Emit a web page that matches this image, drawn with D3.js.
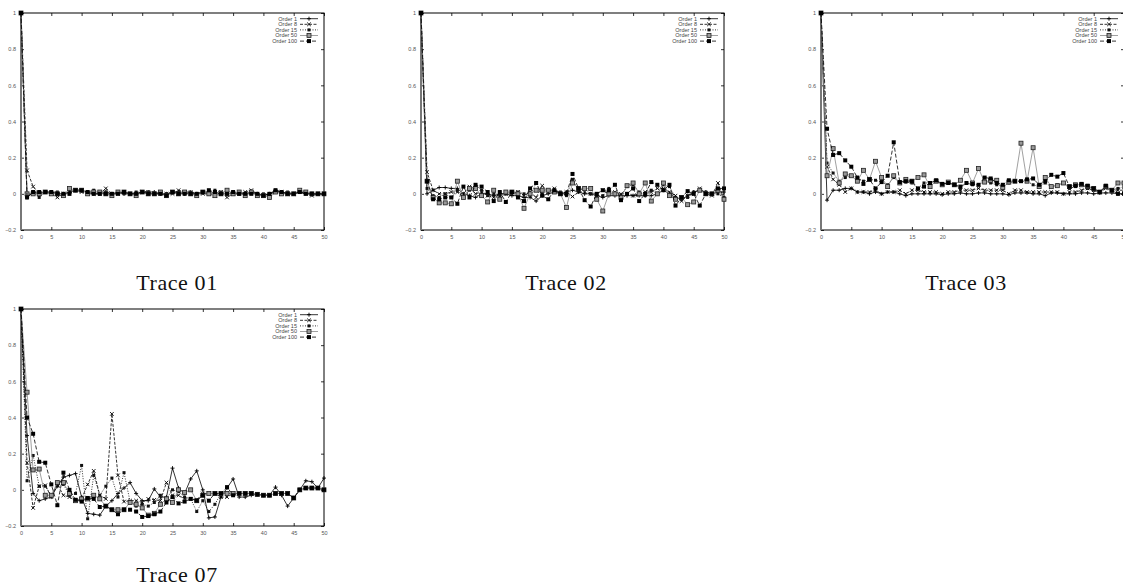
<!DOCTYPE html>
<html>
<head>
<meta charset="utf-8">
<script src="https://cdn.jsdelivr.net/npm/d3@7"></script>
<style>
  body { margin: 0; background: #fff; }
  .tick text { font-family: 'Liberation Sans', Arial, sans-serif; font-size: 5.5px; fill: #555; }
  .legend text { font-family: 'Liberation Sans', Arial, sans-serif; font-size: 5.5px; fill: #444; }
  .caption { font-family: 'Liberation Serif', 'DejaVu Serif', serif; font-size: 22px; fill: #111; letter-spacing: 0.6px; }
</style>
</head>
<body>
<div id="chart"></div>
<script>
// lag axis and tick labels
const lags = d3.range(0, 51)
const xTickValues = [0, 5, 10, 15, 20, 25, 30, 35, 40, 45, 50]
const yTickValues = [-0.2, 0, 0.2, 0.4, 0.6, 0.8, 1]
const seriesNames = ['Order 1', 'Order 8', 'Order 15', 'Order 50', 'Order 100']

// Trace 01
const t01o1 = [1, -0.02, 0.01, 0.0, 0.01, 0.01, 0.0, 0.0, 0.01, 0.02, 0.02, 0.01, 0.0, 0.0, 0.01, 0.0, 0.01, 0.0, 0.0, 0.0, 0.01, 0.01, 0.01, 0.0, 0.0, 0.01, 0.01, 0.0, 0.01, 0.0, 0.01, 0.0, 0.01, 0.0, 0.0, 0.0, 0.0, 0.0, 0.01, 0.0, -0.01, 0.0, 0.01, 0.01, 0.0, 0.0, 0.01, 0.0, 0.0, 0.0, 0.0]
const t01o8 = [1, 0.13, 0.04, 0.0, 0.01, 0.0, -0.02, 0.0, 0.01, 0.02, 0.01, 0.0, 0.0, 0.0, 0.03, 0.0, 0.0, 0.01, 0.0, 0.0, 0.01, 0.01, 0.0, 0.0, 0.0, 0.0, 0.02, 0.01, 0.01, 0.0, 0.0, 0.0, -0.01, 0.01, -0.02, 0.0, 0.0, 0.01, 0.02, 0.0, -0.01, 0.0, 0.01, 0.01, 0.0, 0.0, 0.01, 0.0, -0.01, 0.0, 0.0]
const t01o15 = [1, -0.01, 0.01, -0.02, 0.01, 0.01, 0.01, 0.0, 0.0, 0.02, 0.02, 0.01, 0.02, 0.0, 0.01, 0.0, 0.01, 0.0, 0.0, 0.01, 0.01, 0.01, 0.0, 0.01, 0.0, 0.01, 0.01, 0.01, 0.0, 0.0, 0.01, 0.01, 0.02, 0.01, 0.0, 0.01, 0.0, 0.0, 0.01, 0.0, 0.0, 0.0, 0.02, 0.01, 0.01, 0.0, 0.01, 0.01, 0.0, 0.0, 0.0]
const t01o50 = [1, 0.0, 0.0, 0.0, 0.01, 0.0, 0.0, -0.01, 0.03, 0.02, 0.02, 0.0, 0.01, 0.01, 0.0, -0.01, 0.01, 0.01, 0.0, -0.01, 0.01, 0.0, 0.0, 0.01, -0.01, 0.01, 0.0, 0.01, 0.0, -0.01, 0.01, 0.0, -0.01, 0.0, 0.02, 0.0, 0.01, -0.01, 0.01, -0.01, -0.01, -0.02, 0.01, 0.0, 0.0, 0.0, 0.02, 0.01, 0.0, 0.0, 0.0]
const t01o100 = [1, -0.02, 0.01, 0.01, 0.01, 0.01, 0.0, 0.0, 0.0, 0.02, 0.02, 0.01, 0.0, 0.0, 0.0, 0.0, 0.0, 0.01, 0.0, 0.0, 0.01, 0.0, 0.0, 0.0, -0.01, 0.01, 0.0, 0.0, 0.0, 0.0, 0.01, 0.02, 0.01, 0.0, 0.0, 0.01, 0.0, 0.0, 0.0, 0.0, -0.01, 0.0, 0.02, 0.01, 0.0, 0.0, 0.01, 0.0, 0.0, 0.0, 0.0]

// Trace 02
const t02o1 = [1, 0.0, 0.02, 0.035, 0.035, 0.03, 0.03, 0.0, -0.01, -0.02, 0.0, 0.0, -0.01, 0.0, 0.0, -0.01, -0.01, -0.02, -0.02, -0.04, -0.01, 0.0, 0.01, 0.0, 0.01, 0.02, 0.01, 0.0, 0.0, -0.01, -0.02, -0.01, -0.01, -0.01, -0.01, -0.01, -0.01, -0.01, -0.01, 0.0, 0.02, 0.0, -0.02, -0.03, -0.01, 0.01, 0.02, 0.01, 0.0, 0.01, 0.01]
const t02o8 = [1, 0.12, 0.02, 0.0, 0.0, 0.01, 0.01, 0.0, 0.04, 0.0, 0.01, -0.01, -0.02, 0.0, 0.0, 0.0, 0.01, -0.01, 0.01, -0.02, 0.045, 0.01, 0.03, 0.0, 0.01, -0.015, 0.01, 0.01, 0.0, 0.0, 0.02, 0.0, 0.01, 0.0, 0.0, -0.01, 0.0, 0.01, 0.01, 0.03, 0.03, 0.01, -0.01, -0.04, -0.01, 0.0, 0.03, 0.0, -0.01, 0.06, -0.03]
const t02o15 = [1, 0.03, -0.01, -0.02, 0.0, -0.02, 0.02, -0.02, 0.02, 0.05, 0.02, -0.01, 0.0, -0.01, 0.0, 0.01, 0.01, 0.0, -0.01, 0.06, 0.0, 0.02, 0.02, 0.01, -0.01, 0.08, 0.02, 0.03, 0.0, -0.01, -0.01, 0.03, 0.0, -0.01, 0.04, 0.05, 0.01, -0.01, 0.02, 0.0, 0.05, 0.04, -0.02, -0.03, -0.02, 0.01, 0.02, 0.01, 0.0, 0.0, -0.02]
const t02o50 = [1, 0.07, -0.02, -0.05, -0.05, -0.055, 0.07, -0.02, 0.03, 0.03, -0.01, -0.045, 0.02, -0.03, 0.01, 0.01, 0.0, -0.08, 0.0, 0.02, 0.02, 0.02, 0.01, 0.0, -0.075, 0.06, 0.03, 0.03, 0.03, -0.03, -0.095, 0.0, 0.0, -0.02, 0.045, 0.06, 0.0, 0.06, -0.04, 0.0, 0.06, -0.01, -0.03, -0.02, -0.06, -0.045, 0.02, 0.0, 0.0, 0.02, -0.03]
const t02o100 = [1, 0.07, -0.03, -0.03, -0.02, -0.02, -0.055, 0.04, -0.02, 0.05, 0.04, 0.01, -0.04, 0.01, -0.045, 0.01, -0.02, -0.04, 0.03, 0.06, -0.01, -0.03, 0.02, 0.0, 0.0, 0.11, 0.03, -0.035, -0.07, 0.0, 0.02, 0.02, 0.05, -0.035, 0.0, 0.03, -0.04, 0.0, 0.065, 0.05, 0.02, 0.05, -0.065, -0.02, 0.015, 0.0, -0.065, 0.0, 0.0, 0.03, 0.03]

// Trace 03
const t03o1 = [1, -0.035, 0.02, 0.02, 0.03, 0.03, 0.01, 0.01, 0.0, 0.01, 0.0, 0.01, 0.01, 0.0, -0.01, 0.0, 0.0, 0.0, 0.0, 0.0, -0.005, 0.0, 0.0, 0.005, 0.0, 0.0, 0.005, 0.005, 0.0, 0.0, 0.0, -0.005, 0.005, 0.005, 0.005, 0.0, 0.0, -0.01, 0.005, 0.005, 0.0, 0.0, 0.0, 0.005, 0.005, 0.0, 0.005, 0.005, 0.005, 0.0, 0.0]
const t03o8 = [1, 0.15, 0.08, 0.05, 0.01, 0.03, 0.01, 0.01, 0.01, 0.02, 0.0, 0.01, 0.01, 0.02, 0.0, 0.02, 0.02, 0.01, 0.01, 0.01, 0.0, 0.01, 0.01, 0.02, 0.02, 0.02, 0.03, 0.02, 0.02, 0.02, 0.02, 0.0, 0.02, 0.02, 0.01, 0.01, 0.01, 0.01, 0.01, 0.01, 0.0, 0.01, 0.01, 0.02, 0.03, 0.02, 0.01, 0.03, 0.02, 0.02, 0.02]
const t03o15 = [1, 0.17, 0.115, 0.07, 0.09, 0.1, 0.09, 0.07, 0.08, 0.075, 0.065, 0.05, 0.09, 0.06, 0.065, 0.06, 0.03, 0.06, 0.06, 0.07, 0.05, 0.06, 0.05, 0.03, 0.06, 0.05, 0.05, 0.07, 0.06, 0.05, 0.04, 0.06, 0.07, 0.07, 0.07, 0.05, 0.04, 0.06, 0.04, 0.05, 0.06, 0.03, 0.04, 0.05, 0.03, 0.02, 0.01, 0.04, 0.02, 0.03, 0.04]
const t03o50 = [1, 0.1, 0.25, 0.06, 0.11, 0.1, 0.07, 0.13, 0.08, 0.18, 0.09, 0.04, 0.1, 0.06, 0.08, 0.07, 0.09, 0.105, 0.04, 0.07, 0.05, 0.065, 0.05, 0.075, 0.13, 0.06, 0.14, 0.065, 0.075, 0.075, 0.035, 0.065, 0.07, 0.28, 0.07, 0.255, 0.04, 0.09, 0.04, 0.045, 0.06, 0.04, 0.05, 0.05, 0.04, 0.03, 0.01, 0.04, 0.02, 0.06, 0.06]
const t03o100 = [1, 0.36, 0.215, 0.225, 0.185, 0.15, 0.09, 0.055, 0.08, 0.03, 0.065, 0.1, 0.285, 0.065, 0.07, 0.07, 0.03, 0.04, 0.06, 0.075, 0.055, 0.06, 0.05, 0.04, 0.06, 0.055, 0.05, 0.09, 0.085, 0.06, 0.05, 0.075, 0.07, 0.07, 0.08, 0.085, 0.05, 0.07, 0.105, 0.095, 0.115, 0.04, 0.045, 0.055, 0.045, 0.03, 0.01, 0.045, 0.02, 0.0, 0.0]

// Trace 07
const t07o1 = [1, 0.3, -0.02, -0.06, -0.05, -0.04, 0.02, 0.07, 0.08, 0.09, -0.04, -0.13, -0.135, -0.14, -0.09, -0.06, -0.02, 0.01, 0.04, -0.02, -0.06, -0.06, 0.005, -0.04, -0.04, 0.12, 0.01, -0.02, 0.06, 0.105, 0.0, -0.155, -0.15, -0.04, 0.01, 0.06, -0.04, -0.04, -0.03, -0.025, -0.03, -0.03, 0.015, -0.03, -0.09, -0.045, 0.0, 0.05, 0.045, 0.01, 0.065]
const t07o8 = [1, 0.15, -0.1, 0.02, 0.025, -0.04, 0.03, -0.03, -0.04, -0.06, -0.05, 0.03, 0.105, -0.03, -0.05, 0.42, 0.08, -0.065, -0.06, -0.06, -0.07, -0.05, -0.055, -0.06, 0.04, -0.03, -0.03, -0.05, -0.05, -0.055, -0.02, -0.02, -0.02, -0.04, -0.04, -0.02, -0.02, -0.02, -0.02, -0.025, -0.03, -0.03, -0.02, -0.02, -0.02, -0.045, 0.0, 0.01, 0.01, 0.01, 0.0]
const t07o15 = [1, 0.05, 0.19, 0.02, 0.02, -0.03, 0.03, 0.03, -0.03, -0.02, 0.135, -0.16, 0.08, -0.03, 0.02, 0.065, -0.04, 0.095, -0.065, -0.09, -0.08, -0.09, -0.07, -0.03, -0.05, 0.0, -0.01, -0.04, -0.05, -0.12, -0.06, -0.12, -0.08, -0.02, -0.02, -0.02, -0.02, -0.02, -0.02, -0.025, -0.03, -0.03, -0.02, -0.02, -0.02, -0.045, 0.0, 0.01, 0.01, 0.01, 0.0]
const t07o50 = [1, 0.54, 0.11, 0.115, -0.03, -0.03, 0.04, 0.04, -0.02, -0.06, -0.05, -0.05, -0.03, -0.05, -0.09, -0.11, -0.11, -0.11, -0.07, -0.08, -0.1, -0.14, -0.13, -0.08, -0.05, -0.07, 0.0, -0.015, 0.0, -0.06, -0.03, -0.02, -0.02, -0.02, -0.02, -0.02, -0.02, -0.02, -0.02, -0.025, -0.03, -0.03, -0.02, -0.02, -0.02, -0.045, 0.0, 0.01, 0.01, 0.01, 0.0]
const t07o100 = [1, 0.4, 0.31, 0.155, 0.15, 0.03, -0.085, 0.095, 0.0, -0.055, -0.065, -0.045, -0.05, -0.095, -0.09, -0.11, -0.135, -0.11, -0.11, -0.12, -0.15, -0.145, -0.135, -0.12, -0.07, -0.04, -0.075, -0.065, -0.05, -0.06, -0.03, -0.06, -0.02, -0.02, 0.015, -0.03, -0.02, -0.02, -0.02, -0.025, -0.03, -0.03, -0.02, -0.02, -0.02, -0.045, 0.0, 0.01, 0.01, 0.01, 0.0]

const width = 1123
const height = 586
const plotW = 303
const plotH = 217

const panels = [
  { title: 'Trace 01', left: 21, top: 13, capX: 177, capY: 290, data: [t01o1, t01o8, t01o15, t01o50, t01o100] },
  { title: 'Trace 02', left: 421, top: 13, capX: 566, capY: 290, data: [t02o1, t02o8, t02o15, t02o50, t02o100] },
  { title: 'Trace 03', left: 821, top: 13, capX: 966, capY: 290, data: [t03o1, t03o8, t03o15, t03o50, t03o100] },
  { title: 'Trace 07', left: 21, top: 309, capX: 177, capY: 582, data: [t07o1, t07o8, t07o15, t07o50, t07o100] }
]

// one style per series: gnuplot-like line type + point type
const styles = [
  { stroke: '#000', dash: null, mark: 'plus' },
  { stroke: '#000', dash: '3,1.5', mark: 'cross' },
  { stroke: '#000', dash: '1,1.5', mark: 'dot' },
  { stroke: '#888', dash: null, mark: 'box' },
  { stroke: '#000', dash: '4,2', mark: 'fill' }
]

const svg = d3.select('#chart').append('svg')
  .attr('width', width)
  .attr('height', height)

const x = d3.scaleLinear().domain([0, 50]).range([0, plotW])
const y = d3.scaleLinear().domain([-0.2, 1]).range([plotH, 0])

const drawMark = (sel, kind, px, py) => {
  if (kind === 'plus') {
    sel.append('path').attr('d', `M${px - 2},${py}H${px + 2}M${px},${py - 2}V${py + 2}`)
      .attr('stroke', '#000').attr('stroke-width', 0.9).attr('fill', 'none')
  } else if (kind === 'cross') {
    sel.append('path').attr('d', `M${px - 1.8},${py - 1.8}L${px + 1.8},${py + 1.8}M${px - 1.8},${py + 1.8}L${px + 1.8},${py - 1.8}`)
      .attr('stroke', '#000').attr('stroke-width', 0.9).attr('fill', 'none')
  } else if (kind === 'dot') {
    sel.append('rect').attr('x', px - 1.5).attr('y', py - 1.5).attr('width', 3).attr('height', 3).attr('fill', '#111')
  } else if (kind === 'box') {
    sel.append('rect').attr('x', px - 2).attr('y', py - 2).attr('width', 4).attr('height', 4)
      .attr('fill', '#999').attr('stroke', '#222').attr('stroke-width', 0.8)
  } else {
    sel.append('rect').attr('x', px - 2).attr('y', py - 2).attr('width', 4).attr('height', 4).attr('fill', '#000')
  }
}

const line = d3.line()
  .x((d, i) => x(lags[i]))
  .y(d => y(d))

panels.forEach((p, pi) => {
  const g = svg.append('g').attr('transform', 'translate(' + [p.left, p.top] + ')')

  g.append('clipPath').attr('id', 'clip' + pi)
    .append('rect').attr('x', -3).attr('y', -3).attr('width', plotW + 6).attr('height', plotH + 6)

  // axes with inward ticks, mirrored like gnuplot
  const yAxis = d3.axisLeft(y).tickValues(yTickValues).tickSize(-3).tickPadding(5).tickFormat(d3.format('~g'))
  const yAxisR = d3.axisRight(y).tickValues(yTickValues).tickSize(-3).tickFormat('')
  const xAxis = d3.axisBottom(x).tickValues(xTickValues).tickSize(-3).tickPadding(5)
  const xAxisT = d3.axisTop(x).tickValues(xTickValues).tickSize(-3).tickFormat('')

  g.append('g').attr('class', 'y axis').call(yAxis)
  g.append('g').attr('class', 'y axis right').attr('transform', 'translate(' + [plotW, 0] + ')').call(yAxisR)
  g.append('g').attr('class', 'x axis bottom').attr('transform', 'translate(' + [0, plotH] + ')').call(xAxis)
  g.append('g').attr('class', 'x axis top').call(xAxisT)
  g.selectAll('.domain').remove()
  g.selectAll('.tick line').attr('stroke', '#000').attr('stroke-width', 0.8)

  g.append('rect').attr('width', plotW).attr('height', plotH)
    .attr('fill', 'none').attr('stroke', '#000').attr('stroke-width', 1)
  g.append('line').attr('x1', 0).attr('x2', 0).attr('y1', 0).attr('y2', plotH)
    .attr('stroke', '#777').attr('stroke-width', 2)

  const plot = g.append('g').attr('clip-path', 'url(#clip' + pi + ')')

  p.data.forEach((vals, si) => {
    const st = styles[si]
    plot.append('path')
      .datum(vals)
      .attr('d', line)
      .attr('fill', 'none')
      .attr('stroke', st.stroke)
      .attr('stroke-width', 0.8)
      .attr('stroke-dasharray', st.dash)
    const marks = plot.append('g').attr('class', 'marks')
    vals.forEach((v, i) => drawMark(marks, st.mark, x(lags[i]), y(v)))
  })

  // legend, top right inside the frame
  const legend = g.append('g').attr('class', 'legend')
  seriesNames.forEach((name, si) => {
    const st = styles[si]
    const ly = 5.7 + si * 5.6
    legend.append('text')
      .attr('x', plotW - 27).attr('y', ly).attr('dy', '0.35em')
      .attr('text-anchor', 'end').text(name)
    legend.append('line')
      .attr('x1', plotW - 24).attr('x2', plotW - 6).attr('y1', ly).attr('y2', ly)
      .attr('stroke', st.stroke).attr('stroke-width', 0.8).attr('stroke-dasharray', st.dash)
    drawMark(legend, st.mark, plotW - 15, ly)
  })

  svg.append('text').attr('class', 'caption')
    .attr('x', p.capX).attr('y', p.capY)
    .attr('text-anchor', 'middle')
    .text(p.title)
})
</script>
</body>
</html>
